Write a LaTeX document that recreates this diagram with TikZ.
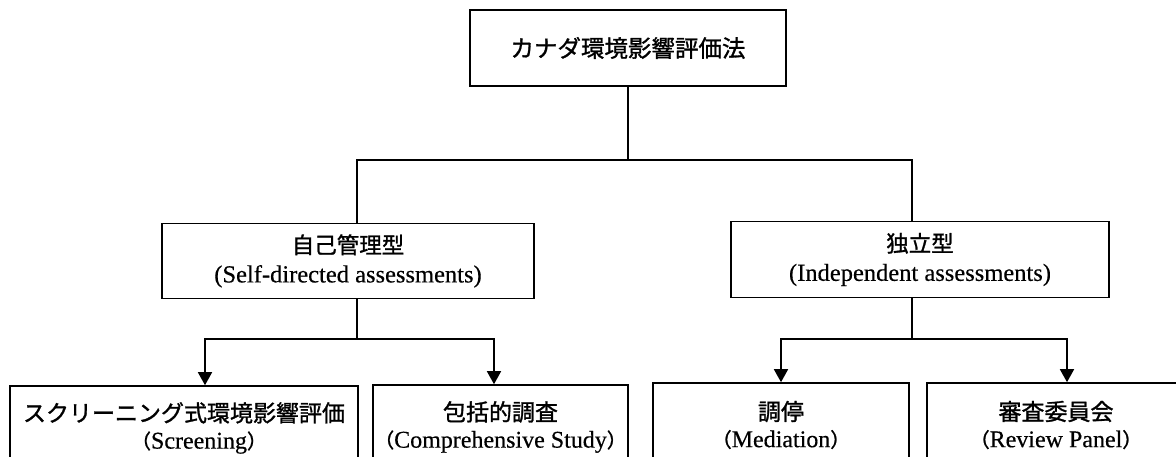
\documentclass[tikz,border=0pt]{standalone}
\usepackage{fontspec}
\setmainfont{Liberation Serif}[FakeBold=0.4]
\newfontfamily\jp{Noto Sans CJK JP}[FakeBold=1.2]
\usetikzlibrary{arrows.meta}

\begin{document}
\begin{tikzpicture}[x=1pt,y=-1pt,
  line width=1.6pt,
  box/.style={draw=black, line width=1.6pt, rectangle, inner sep=0pt, align=center,
    font=\fontsize{24}{29}\selectfont},
  arr/.style={-{Triangle[width=14pt,length=13pt]}}
]
\useasboundingbox (0,0) rectangle (1176,457);
\clip (0,0) rectangle (1176,457);
\fill[white] (0,0) rectangle (1176,457);

% level 1
\node[box, minimum width=316pt, minimum height=76pt] (top) at (628,48)
  {\jp\fontsize{23.5}{26}\selectfont カナダ環境影響評価法};

% level 2: Japanese title over an English gloss
\newcommand{\twoline}[2]{{\jp\fontsize{22.5}{29}\selectfont #1}\\{\fontsize{24.5}{29}\selectfont #2}}
\node[box, minimum width=372pt, minimum height=75pt] (self) at (348,261)
  {\twoline{自己管理型}{(Self-directed assessments)}};
\node[box, minimum width=378pt, minimum height=76pt] (indep) at (920,259.5)
  {\twoline{独立型}{(Independent assessments)}};

% level 3 (boxes run past the lower edge)
\newcommand{\wparen}[1]{{\jp\fontsize{20}{20}\selectfont #1}}
\newcommand{\twolineb}[2]{{\jp\fontsize{23}{28}\selectfont #1}\\{\fontsize{24}{28}\selectfont #2}}
\node[box, minimum width=348pt, minimum height=84pt, font=\fontsize{23}{27}\selectfont] (screen) at (184,428)
  {\twolineb{スクリーニング式環境影響評価}{\hspace*{30pt}\wparen{（}Screening\wparen{）}}};
\node[box, minimum width=255pt, minimum height=84pt, font=\fontsize{23}{27}\selectfont] (comp) at (500.5,427)
  {\twolineb{包括的調査}{\wparen{（}Comprehensive Study\wparen{）}}};
\node[box, minimum width=256pt, minimum height=84pt, font=\fontsize{23}{27}\selectfont] (med) at (781,425)
  {\twolineb{調停}{\wparen{（}Mediation\wparen{）}}};
\node[box, minimum width=258pt, minimum height=84pt, font=\fontsize{23}{27}\selectfont] (rev) at (1056,425)
  {\twolineb{審査委員会}{\wparen{（}Review Panel\wparen{）}}};

% junctions
\coordinate (j1) at (628,160);
\coordinate (j2) at (357,339);
\coordinate (j3) at (912,339);

% connectors
\draw (top.south) -- (j1);
\draw ([xshift=9pt]self.north) |- (j1) -| ([xshift=-8pt]indep.north);
\draw ([xshift=9pt]self.south) -- (j2);
\draw ([xshift=-8pt]indep.south) -- (j3);
\draw[arr] (j2) -| ([xshift=21pt]screen.north);
\draw[arr] (j2) -| ([xshift=-6.5pt]comp.north);
\draw[arr] (j3) -| (med.north);
\draw[arr] (j3) -| ([xshift=11pt]rev.north);
\end{tikzpicture}
\end{document}
